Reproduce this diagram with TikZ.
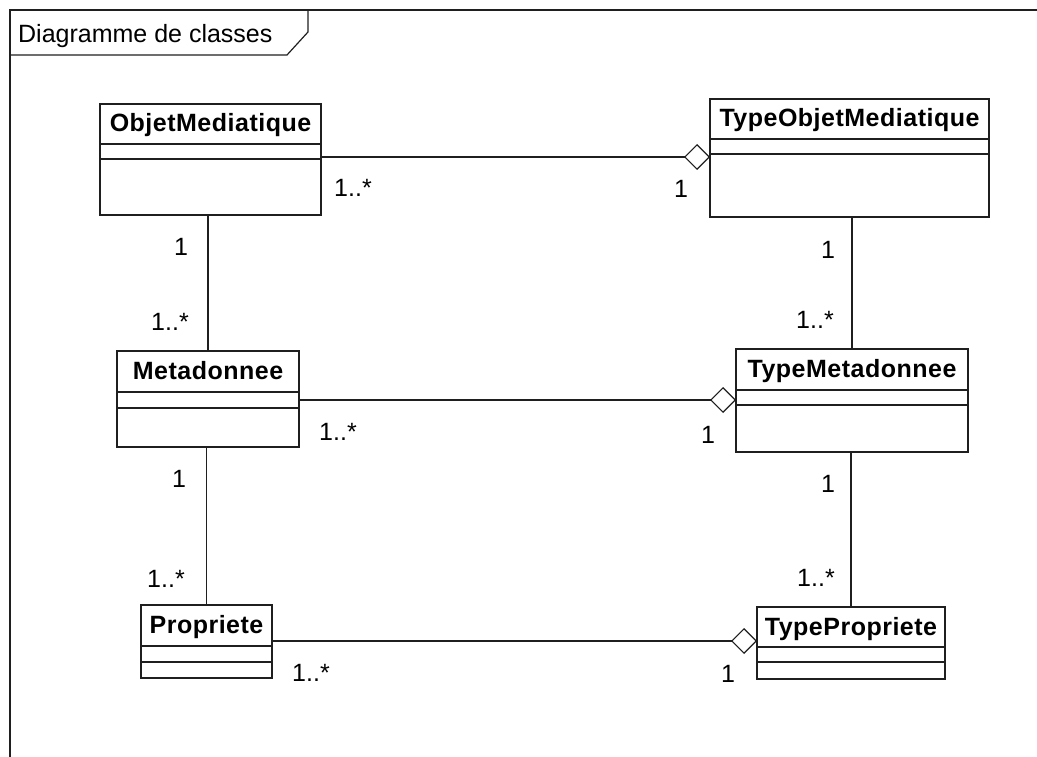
\documentclass[tikz,border=0pt]{standalone}
\usepackage{fontspec}
\setmainfont{Liberation Sans}
\newfontfamily\classfont[LetterSpace=2]{Liberation Sans}
\usetikzlibrary{arrows.meta}

% One UML class: name, left, top, right, bottom, first divider, second divider, title
\newcommand\classbox[8]{%
  \node[classframe, minimum width={#4-#2}, minimum height={#5-#3}]
    (#1) at ({(#2+#4)/2},{(#3+#5)/2}) {};
  \draw[boxline] (#1.west |- 0,#6) -- (#1.east |- 0,#6);
  \draw[boxline] (#1.west |- 0,#7) -- (#1.east |- 0,#7);
  \node[classname] (#1-name) at ({(#2+#4)/2},{#3+28}) {#8};
}

\begin{document}
\begin{tikzpicture}[
    x=1pt, y=-1pt,
    ink/.style={draw=black!88},
    boxline/.style={ink, line width=1.3pt},
    classframe/.style={boxline, rectangle, inner sep=0pt, outer sep=0pt},
    classname/.style={anchor=base, inner sep=0pt,
      font=\classfont\bfseries\fontsize{25}{30}\selectfont},
    mult/.style={inner sep=0pt, font=\fontsize{25}{30}\selectfont},
    link/.style={ink, line width=1.1pt},
    agg/.style={link, -{Diamond[open, length=26pt, width=26pt, line width=1.1pt]}},
    frameline/.style={ink, line width=1.2pt}
  ]
  \useasboundingbox (0,0) rectangle (1037,757);

  % Diagram frame and its name tab
  \draw[frameline] (1037,10) -- (10,10) -- (10,757);
  \draw[frameline] (10,55) -- (287,55) -- (308,32) -- (308,10);
  \node[anchor=base west, inner sep=0pt, font=\fontsize{25}{30}\selectfont]
    (frametitle) at (18,43) {Diagramme de classes};

  % Classes
  \classbox{om}{100}{104}{321}{215}{144}{159}{ObjetMediatique}
  \classbox{tom}{710}{99}{989}{217}{139}{154}{TypeObjetMediatique}
  \classbox{md}{117}{351}{299}{447}{392}{408}{Metadonnee}
  \classbox{tmd}{736}{349}{968}{452}{390}{405}{TypeMetadonnee}
  \classbox{pr}{141}{605}{272}{678}{646}{662}{Propriete}
  \classbox{tp}{757}{607}{945}{679}{647}{662}{TypePropriete}

  % Aggregations towards the type classes
  \draw[agg] (om.east |- 0,157) -- (tom.west |- 0,157);
  \draw[agg] (md.east |- 0,400) -- (tmd.west |- 0,400);
  \draw[agg] (pr.east |- 0,641) -- (tp.west |- 0,641);

  % Plain associations down each column
  \draw[link] (md.north |- om.south) -- (md.north);
  \draw[link] (pr.north |- md.south) -- (pr.north);
  \draw[link] (tmd.north |- tom.south) -- (tmd.north);
  \draw[link] (tp.north |- tmd.south) -- (tp.north);

  % Multiplicities
  \node[mult] (m1) at (353,188) {1..*};
  \node[mult] (m2) at (681,189) {1};
  \node[mult] (m3) at (181,247) {1};
  \node[mult] (m4) at (170,322) {1..*};
  \node[mult] (m5) at (828,250) {1};
  \node[mult] (m6) at (815,320) {1..*};
  \node[mult] (m7) at (338,432) {1..*};
  \node[mult] (m8) at (708,435) {1};
  \node[mult] (m9) at (179,479) {1};
  \node[mult] (m10) at (166,579) {1..*};
  \node[mult] (m11) at (828,484) {1};
  \node[mult] (m12) at (816,578) {1..*};
  \node[mult] (m13) at (311,673) {1..*};
  \node[mult] (m14) at (728,674) {1};
\end{tikzpicture}
\end{document}
